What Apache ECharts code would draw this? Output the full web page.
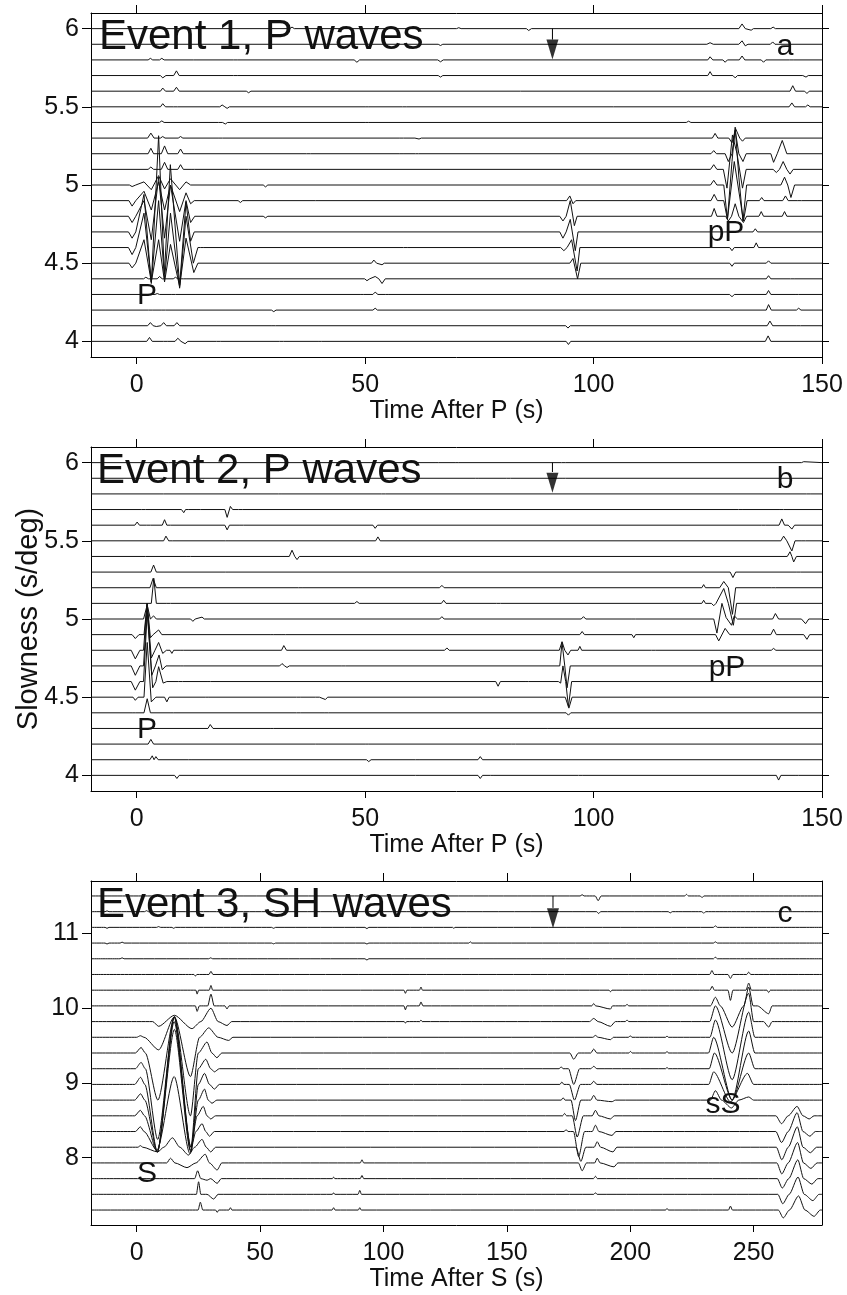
<!DOCTYPE html>
<html>
<head>
<meta charset="utf-8">
<script src="https://cdn.jsdelivr.net/npm/echarts@6/dist/echarts.min.js"></script>
<style>
  html, body { margin: 0; padding: 0; background: #fff; }
  #chart { width: 847px; height: 1295px; }
</style>
</head>
<body>
<div id="chart"></div>
<script>
// slowness of each beam trace, top to bottom (s/deg)
const slownessA = [6.0, 5.9, 5.8, 5.7, 5.6, 5.5, 5.4, 5.3, 5.2, 5.1, 5.0, 4.9, 4.8, 4.7, 4.6, 4.5, 4.4, 4.3, 4.2, 4.1, 4.0];
const slownessB = [6.0, 5.9, 5.8, 5.7, 5.6, 5.5, 5.4, 5.3, 5.2, 5.1, 5.0, 4.9, 4.8, 4.7, 4.6, 4.5, 4.4, 4.3, 4.2, 4.1, 4.0];
const slownessC = [11.5, 11.29, 11.08, 10.87, 10.66, 10.45, 10.24, 10.03, 9.82, 9.61, 9.40, 9.19, 8.98, 8.77, 8.56, 8.35, 8.14, 7.93, 7.72, 7.51, 7.30];

// amplitude of 1 = one trace spacing
const ampUnitAB = 0.1;
const ampUnitC = 0.21;

// record start / end (s)
const recordA = [-10, 150];
const recordC = [-18.5, 277.7];

// tick labels
const timeTicksP = [0, 50, 100, 150];
const timeTicksS = [0, 50, 100, 150, 200, 250];
const slowTicksP = [4, 4.5, 5, 5.5, 6];
const slowTicksS = [8, 9, 10, 11];

// arrows: [time, slowness of line top, slowness of line end, triangle centre]
const arrowA = [91, 6.0, 5.93, 5.866];
const arrowB = [91, 6.0, 5.94, 5.871];
const arrowC = [168.7, 11.5, 11.34, 11.203];

// traces: flat pairs of time (s), amplitude
const tracesA = [
  [33.5,0, 34,0.1, 34.5,0, 70,0, 70.5,0.06, 71,0, 85.3,0, 85.8,-0.12, 86.4,0, 131.8,0, 132.5,0.3, 133.2,0, 134.5,-0.1, 135,0, 138.8,0, 139.3,0.1, 139.8,0],
  [66,0, 66.5,-0.08, 67,0, 124.8,0, 125.5,0.1, 126.2,0, 131.8,0, 132.5,0.22, 133.2,-0.1, 133.8,0, 138.7,0, 139.2,0.15, 139.7,0],
  [2.5,0, 3,0.1, 3.5,0, 5,0, 5.5,0.1, 6,0, 12.4,0, 12.8,0.08, 13.2,0, 21.2,0, 21.6,-0.1, 22,0, 47.6,0, 48.2,-0.15, 48.8,0, 65.9,0, 66.5,-0.12, 67.1,0, 125,0, 125.5,0.2, 126.1,0, 128.3,0, 128.8,-0.15, 129.3,0, 131.9,0, 132.5,0.25, 133.1,0, 136.7,0, 137.2,-0.15, 137.7,0, 142.9,0, 143.3,0.1, 143.7,0],
  [5.2,0, 5.7,-0.15, 6.4,0, 8.1,0, 8.7,0.3, 9.3,0, 21.2,0, 21.6,0.06, 22,0, 66,0, 66.5,-0.1, 67,0, 125,0, 125.5,0.25, 126,0, 130.5,0, 131,-0.15, 131.5,0, 145.8,0, 146.5,-0.1, 147,0],
  [5.2,0, 5.7,0.2, 6.3,0, 7.3,0, 7.7,-0.12, 8.1,0, 8.7,0.25, 9.3,0, 24,0, 24.5,-0.1, 25,0, 143,0, 143.6,0.35, 144.2,0, 146.2,0, 146.7,-0.15, 147.2,0],
  [5.2,0, 5.7,0.2, 6.3,0, 8.1,0, 8.5,0.08, 8.9,0, 18.2,0, 18.7,0.12, 19.3,0, 19.8,-0.1, 20.3,0, 50,0, 50.4,0.08, 50.8,0, 58.2,0, 58.6,0.08, 59,0, 103.6,0, 104,0.06, 104.4,0, 142.8,0, 143.4,0.25, 144,0, 146.4,0, 146.9,0.12, 147.4,0],
  [5,0, 5.5,0.1, 6,0, 17.9,0, 18.3,0.08, 18.8,0, 19.4,-0.1, 19.9,0, 50,0, 50.4,0.06, 50.8,0, 120.3,0, 120.8,0.08, 121.3,0],
  [2.4,0, 3.1,0.32, 3.8,0, 5.2,0, 5.7,0.1, 6.2,0, 9.1,0, 9.6,0.1, 10.1,0, 18,0, 18.4,0.08, 18.8,0, 57.6,0, 58,0.1, 58.4,0, 60.9,0, 61.3,0.1, 61.8,-0.06, 62.3,0, 126,0, 126.6,0.3, 127.2,0, 129.6,0, 130.3,-0.3, 131.1,0.6, 132,0, 132.6,-0.2, 133.2,0],
  [2.5,0, 3.1,0.35, 3.7,0, 5.4,0, 6.1,0.5, 6.8,0, 9,0, 9.6,0.3, 10.2,0, 37.2,0, 37.6,-0.06, 38,0, 57.6,0, 58,0.1, 58.5,0, 61,0, 61.3,0.08, 61.7,0, 125.7,0, 126.3,0.2, 126.9,0, 128.8,0, 129.5,-0.5, 130.3,0, 131,1.5, 131.8,0, 132.7,-0.5, 133.4,0, 138.8,0, 139.4,-0.55, 140.2,0, 141.3,0.85, 142.3,0],
  [2.5,0, 3.1,0.15, 3.7,0, 5.4,0, 6.1,0.45, 6.8,0, 9,0, 9.6,0.3, 10.2,0, 11.9,0, 12.3,0.08, 12.7,0, 23.7,0, 24.1,0.06, 24.5,0, 125.6,0, 126.3,0.3, 127,0, 128.4,0, 129.2,-1.2, 130.4,2.2, 131.4,1.0, 132.6,-1.2, 133.4,0, 139.3,0, 140,-0.2, 140.7,0, 141.5,0.5, 142.3,0, 143,-0.3, 143.7,0],
  [-1.6,0, -1,-0.1, -0.2,0, 1.6,0.2, 3.2,-0.3, 4.8,0.6, 6.1,-0.25, 7.4,0.4, 9.4,-0.3, 10.8,0.2, 11.8,0, 27.7,0, 28.2,-0.12, 28.7,0, 125.6,0, 126.3,0.3, 127,0, 128.5,0, 129.3,-2.2, 130.3,1.5, 131,3.7, 131.8,0.5, 132.7,-2.3, 133.5,0, 141,0, 141.8,0.5, 142.5,0, 143.2,-0.8, 144,0],
  [-1.7,0, -1,-0.35, -0.2,0, 1.6,0.6, 3.2,-0.6, 4.8,1.2, 6.1,-0.6, 7.4,1.0, 9.4,-0.7, 10.8,0.5, 11.8,-0.2, 12.6,0, 22.2,0, 22.7,-0.12, 23.2,0, 39.1,0, 39.5,0.08, 39.9,0, 94.1,0, 94.8,0.3, 95.5,-0.2, 96.1,0, 125.7,0, 126.4,0.4, 127.1,0, 128.5,0, 129.3,-1.2, 130.8,2.5, 132.8,-1.3, 133.6,0, 136.3,0, 136.8,0.2, 137.3,0, 141.4,0, 142,0.3, 142.6,0, 144.7,0, 145.1,0.1, 145.5,0],
  [-1.8,0, -1,-0.4, -0.2,0, 1.6,1.0, 3.2,-1.5, 4.8,2.5, 6.1,-1.4, 7.4,2.0, 9.4,-1.6, 10.8,1.0, 11.8,-0.4, 12.7,0, 27.7,0, 28.2,-0.1, 28.7,0, 92.6,0, 93.3,-0.3, 94,0, 94.9,1.0, 95.8,-0.6, 96.4,0, 125.8,0, 126.4,0.5, 127,0, 128.9,0, 129.5,-0.3, 130.2,0, 131,0.8, 131.8,0, 132.8,-0.4, 133.5,0, 136.2,0, 136.7,0.3, 137.2,0, 141.3,0, 141.8,0.3, 142.3,0],
  [-1.8,0, -1,-0.4, -0.2,0, 1.6,2.4, 3.2,-3.3, 4.8,6.15, 6.06,-2.7, 7.37,4.3, 9.4,-3.4, 10.8,1.9, 11.8,-0.6, 12.6,0, 92.6,0, 93.3,-0.4, 94,0, 94.9,0.8, 96,-1.2, 96.6,0, 134.9,0, 135.4,0.2, 135.9,0],
  [-1.8,0, -1,-0.45, -0.2,0, 1.6,2.2, 3.2,-2.2, 4.8,3.0, 6.1,-2.0, 7.4,2.2, 9.4,-2.6, 10.8,2.0, 12.4,-1.0, 13.4,0, 14,0, 14.3,-0.1, 14.7,0, 58.4,0, 58.8,0.1, 59.2,0, 92.8,0, 93.5,-0.2, 94.2,0, 95.2,0.5, 96.4,-1.5, 97,0, 129.8,0, 130.3,-0.2, 130.8,0, 135.1,0, 135.6,0.3, 136.1,0],
  [-1.7,0, -1,-0.3, -0.2,0, 1.6,1.5, 3.2,-1.2, 4.8,1.5, 6.1,-1.2, 7.4,1.2, 9.4,-1.5, 10.8,1.6, 12.5,-0.6, 13.4,0, 51.4,0, 51.9,0.2, 52.5,0, 53.7,-0.1, 54.2,0, 94.8,0, 95.5,0.3, 96.5,-1.0, 97.2,0, 129.8,0, 130.3,-0.2, 130.8,0, 137.8,0, 138.3,0.15, 138.8,0],
  [1.5,0, 2,0.1, 2.6,0, 4.5,0, 5,0.15, 5.6,0, 8,0, 8.5,0.1, 9,0, 10.2,0, 10.6,-0.1, 11,0, 49.9,0, 50.4,-0.12, 51,0, 52.2,0.15, 53,0, 53.7,-0.3, 54.4,0, 137.8,0, 138.3,0.2, 138.8,0, 143.1,0, 143.5,0.08, 143.9,0],
  [4,0, 4.5,0.06, 5,0, 7.7,0, 8.1,0.06, 8.5,0, 48.9,0, 49.3,0.08, 49.7,0, 51.7,0, 52.2,0.15, 52.8,0, 54.4,0, 54.8,-0.06, 55.2,0, 129.8,0, 130.3,-0.15, 130.8,0, 137.8,0, 138.3,0.25, 138.8,0, 144.1,0, 144.5,0.1, 144.9,0],
  [2.6,0, 3,0.06, 3.4,0, 5.5,0, 5.9,0.06, 6.3,0, 29.5,0, 30,-0.1, 30.5,0, 51.7,0, 52.2,0.12, 52.7,0, 137.8,0, 138.3,0.35, 138.9,0, 144.4,0, 144.9,0.12, 145.4,0],
  [2.4,0, 3,0.2, 3.6,0, 4.3,-0.05, 5.3,0, 5.9,0.2, 6.5,0, 8.2,0, 8.8,0.2, 9.4,0, 29.6,0, 30,-0.05, 30.4,0, 93.9,0, 94.4,-0.15, 94.9,0, 138,0, 138.6,0.3, 139.2,0, 144.5,0, 144.9,0.08, 145.3,0],
  [2.2,0, 2.8,0.25, 3.4,0, 5.9,0, 6.3,0.1, 6.8,0, 8.4,0, 9,0.2, 9.7,0, 10.6,-0.15, 11.2,0, 17.5,0, 17.9,-0.05, 18.3,0, 31.3,0, 31.7,0.08, 32.1,0, 39.7,0, 40.1,0.08, 40.5,0, 94,0, 94.5,-0.2, 95,0, 137.6,0, 138.2,0.35, 138.8,0]
];

const tracesB = [
  [7,0, 7.4,0.1, 7.8,0, 65.3,0, 65.7,0.06, 66.1,0, 69.7,0, 70.1,0.06, 70.5,0, 93,0, 93.4,-0.05, 93.8,0, 145.5,0, 146,0.06, 146.4,0],
  [74.1,0, 74.5,-0.06, 74.9,0, 81,0, 81.4,0.05, 81.8,0, 93.1,0, 93.5,0.05, 93.9,0],
  [5.1,0, 5.5,0.05, 5.9,0, 31,0, 31.4,0.05, 31.8,0, 53.6,0, 54,0.1, 54.5,0, 146.6,0, 147,-0.1, 147.4,0],
  [1.1,0, 1.5,0.1, 1.9,0, 9.8,0, 10.3,-0.2, 10.7,0, 11,0.1, 11.4,0, 13.2,0, 13.6,0.06, 14,0, 19.3,0, 19.8,-0.5, 20.5,0.2, 21,0, 22.3,0, 22.7,0.06, 23.1,0, 131.7,0, 132.1,-0.1, 132.5,0, 140.8,0, 141.2,0.08, 141.6,0],
  [-0.4,0, 0.1,0.2, 0.6,0, 2.2,0, 2.6,0.08, 3,0, 5.6,0, 6.1,0.35, 6.6,0, 7,-0.1, 7.4,0, 19.3,0, 19.8,-0.3, 20.3,0, 22.6,0, 23,0.08, 23.4,0, 51.7,0, 52.2,-0.2, 52.7,0, 136.8,0, 137.2,0.1, 137.6,0, 140.6,0, 141.2,0.4, 141.8,0, 142.6,0, 143.4,-0.25, 144,0],
  [5.9,0, 6.4,0.3, 7,0, 7.4,-0.1, 7.8,0, 19.4,0, 19.8,-0.06, 20.2,0, 52.3,0, 52.8,0.25, 53.3,0, 141,0, 141.6,0.3, 142.3,0, 143.4,-0.65, 144.1,0, 145.6,0, 146,-0.1, 146.4,0],
  [1.9,0, 2.3,0.06, 2.7,0, 11,0, 11.4,0.06, 11.8,0, 33.4,0, 34,0.4, 34.6,0, 35.1,-0.2, 35.6,0, 142.4,0, 143,0.3, 143.4,0, 143.8,-0.35, 144.4,0],
  [3.1,0, 3.7,0.45, 4.3,0, 19.4,0, 19.8,-0.06, 20.2,0, 129.9,0, 130.5,-0.35, 131.1,0, 144.5,0, 144.9,0.08, 145.3,0],
  [2.9,0, 3.6,0.6, 4.3,0, 35.4,0, 35.8,-0.06, 36.2,0, 66.3,0, 66.8,0.15, 67.3,0, 123.7,0, 124.1,0.2, 124.5,0, 127.6,0, 128.5,0.4, 129.5,0, 130.4,-1.7, 131.1,0, 139,0, 139.4,0.08, 139.8,0],
  [3.2,0, 3.75,1.6, 4.3,0, 6.6,0, 7,0.08, 7.4,0, 47.7,0, 48.2,0.12, 48.7,0, 66.7,0, 67.2,0.2, 67.7,0, 78.8,0, 79.2,0.06, 79.6,0, 123.7,0, 124.1,0.2, 124.5,0, 125.8,0, 126.3,-0.15, 126.8,0, 128.5,0.95, 129.5,0, 130.6,-1.4, 131.3,0],
  [1.5,0, 2.3,0.9, 3,0, 3.7,0.2, 4.3,0, 11.8,0, 12.3,-0.15, 12.8,0, 14.3,0.12, 14.8,0, 66.3,0, 66.8,0.15, 67.3,0, 97.3,0, 97.8,0.15, 98.3,0, 108.4,0, 108.8,-0.12, 109.2,0, 126.3,0, 127,-0.9, 128.1,1.0, 129,0.1, 130.2,-0.4, 130.8,0.2, 131.5,0, 139.2,0, 139.8,0.35, 140.5,0, 145.5,0, 146.4,-0.3, 147.1,0],
  [-1,0, -0.3,-0.25, 0.5,0, 1.6,0, 2.3,2.0, 3,-0.2, 3.6,0, 4.8,0.3, 5.5,0, 29.2,0, 29.6,0.1, 30,0, 31.8,0, 32.2,0.12, 32.6,0, 97,0, 97.5,0.2, 98,0, 108.4,0, 108.8,-0.2, 109.2,0, 126.7,0, 127.4,-0.4, 128.8,0.4, 129.8,0, 138.8,0, 139.4,0.35, 140,0, 146,0, 146.7,-0.3, 147.3,0],
  [-1.2,0, -0.3,-0.55, 0.7,0, 1.5,0, 2.25,3.0, 3.2,-0.5, 4,0, 4.8,0.5, 5.7,-0.2, 6.5,0, 7.3,0, 7.7,-0.2, 8.1,0, 9.5,0, 9.9,0.1, 10.3,0, 31.7,0, 32.2,0.3, 32.8,0, 67.4,0, 67.9,0.15, 68.4,0, 92.5,0, 93.1,0.55, 93.7,0, 94.4,-0.3, 95,0, 96.6,0, 97,0.25, 97.4,0, 112.7,0, 113.1,0.08, 113.5,0, 138.9,0, 139.4,0.12, 139.9,0],
  [-1.2,0, -0.3,-0.6, 0.7,0, 1.5,0, 2.3,3.8, 3.3,-0.6, 4.1,0, 4.9,0.7, 5.6,-0.25, 6.4,0, 9.5,0, 9.9,0.1, 10.3,0, 31.3,0, 31.8,0.15, 32.4,0, 32.9,-0.1, 33.4,0, 44.9,0, 45.3,-0.08, 45.7,0, 92.6,0, 93.1,1.5, 93.7,0, 94.2,-1.4, 94.9,0],
  [-1.2,0, -0.3,-0.55, 0.7,0, 1.5,0, 2.3,4.4, 3.5,-0.4, 4.2,0, 4.8,0.95, 5.8,-0.1, 6.6,0, 9.2,0, 9.6,0.12, 10,0, 15.4,0, 15.8,0.06, 16.2,0, 78.6,0, 79.1,-0.3, 79.6,0, 85,0, 85.4,0.08, 85.8,0, 92.3,0, 92.8,-0.1, 93.3,1.0, 93.9,0, 94.5,-1.6, 95.2,0],
  [-0.8,0, -0.3,-0.2, 0.3,0, 1.6,0, 2.3,3.5, 3.2,-0.3, 4.2,0, 6.1,0, 6.6,-0.3, 7.1,0, 15,0, 15.4,0.12, 15.8,0, 35,0, 35.4,0.1, 35.8,0, 39.1,0, 39.5,0.1, 40,0, 41.3,-0.15, 41.8,0, 93.8,0, 94.6,-0.7, 95.3,0],
  [-1,0, -0.6,-0.08, -0.2,0, 1.6,0, 2.3,0.9, 3,0, 7.3,0, 7.7,-0.1, 8.1,0, 35,0, 35.4,0.1, 35.8,0, 41.2,0, 41.6,-0.06, 42,0, 94,0, 94.5,-0.15, 95,0],
  [15.6,0, 16.1,0.25, 16.7,0, 29.2,0, 29.6,-0.06, 30,0],
  [2.5,0, 3.1,0.3, 3.7,0, 39.1,0, 39.5,0.06, 39.9,0, 50,0, 50.4,-0.1, 50.8,0, 82.1,0, 82.5,0.12, 82.9,0],
  [2.9,0, 3.4,0.25, 3.8,0, 4.2,0.2, 4.7,0, 11.3,0, 11.7,0.08, 12.1,0, 50.3,0, 50.8,-0.12, 51.3,0, 61,0, 61.4,0.1, 61.8,0, 74.7,0, 75.2,0.2, 75.7,0],
  [8.3,0, 8.8,-0.2, 9.3,0, 61,0, 61.4,0.08, 61.8,0, 74.7,0, 75.2,-0.2, 75.7,0, 77.4,0, 77.8,0.06, 78.2,0, 96.7,0, 97.1,-0.1, 97.5,0, 140,0, 140.5,-0.3, 141,0, 144.1,0, 144.5,0.06, 144.9,0]
];

const tracesC = [
  [7.5,0, 8.2,0.05, 8.9,0, 14.4,0, 15,-0.1, 15.6,0, 92,0, 92.7,-0.06, 93.4,0, 179.7,0, 180.5,0.08, 181.3,0, 185.8,0, 187,-0.3, 188.2,0, 222,0, 222.8,0.1, 223.6,0, 228.3,0, 229.1,-0.1, 229.9,0],
  [-12.8,0, -12,0.05, -11.2,0, 3.2,0, 4,0.06, 4.8,0, 14.4,0, 15,-0.08, 15.6,0, 54.7,0, 55.5,0.05, 56.3,0, 92.5,0, 93.3,-0.08, 94.1,0, 186.4,0, 187.2,-0.12, 188,0, 215.4,0, 216.2,-0.08, 217,0, 229,0, 229.8,-0.1, 230.6,0],
  [-12.8,0, -12,-0.06, -11.2,0, 8.1,0, 8.9,0.05, 9.7,0, 14.3,0, 15,-0.06, 15.7,0, 54.7,0, 55.5,-0.06, 56.3,0, 92.5,0, 93.3,-0.08, 94.1,0, 128,0, 128.5,-0.06, 129,0, 233.7,0, 234.5,0.1, 235.3,0],
  [-12.8,0, -12,-0.06, -11.2,0, -6.7,0, -5.9,0.06, -5.1,0, 54.7,0, 55.5,-0.05, 56.3,0, 92.5,0, 93.3,-0.06, 94.1,0, 134.6,0, 135.2,0.08, 135.8,0, 233.7,0, 234.5,0.08, 235.3,0],
  [-6.7,0, -5.9,0.06, -5.1,0, 29.2,0, 30,0.06, 30.8,0, 92.5,0, 93.3,-0.08, 94.1,0, 233.7,0, 234.5,0.1, 235.3,0],
  [23.2,0, 23.8,-0.1, 24.4,0, 29.3,0, 30.1,0.2, 30.9,0, 232.2,0, 233.1,0.25, 234,0, 239.6,0, 240.6,-0.25, 241.6,0, 247.2,0, 248,0.15, 248.8,0],
  [24,0, 24.5,-0.25, 25.1,0, 29.4,0, 30.1,0.3, 30.8,0, 108.3,0, 108.9,-0.2, 109.5,0, 114.6,0, 115.2,0.2, 115.8,0, 191.4,0, 192,-0.1, 192.6,0, 232.3,0, 233.2,0.25, 234.1,0, 239.6,0, 240.6,-0.65, 241.6,0, 246.9,0, 248,0.45, 249.1,0, 255.4,0, 256.1,-0.15, 256.8,0],
  [23.8,0, 24.5,-0.35, 25.4,0, 28.8,0, 30.1,0.75, 31.4,0, 35.8,0, 36.6,-0.2, 37.4,0, 108.3,0, 108.9,-0.25, 109.5,0, 114.5,0, 115.2,0.25, 116,0, 184.4,0, 185.2,0.15, 186,0, 192,-0.2, 192.8,0, 198,0, 198.7,0.1, 199.4,0, 232.5,0, 234.5,0.55, 236.5,0, 241.3,-1.35, 246,0, 248,1.2, 249.8,0, 251.5,0, 256.1,-0.5, 257.5,0],
  [6.5,0, 8.9,-0.3, 15.3,0.4, 22.4,-0.45, 26,0, 30.1,0.85, 33,0, 36.6,-0.25, 38.5,0, 108.4,0, 108.9,-0.1, 109.4,0, 114.7,0, 115.2,0.1, 115.7,0, 183.5,0, 185.2,0.2, 187,0, 192,-0.3, 194,0, 198,0, 198.7,0.1, 199.4,0, 232.2,0, 234.5,1.0, 241.3,-2.0, 248,1.8, 250,0, 254,0, 256.1,-0.35, 257.5,0],
  [0,0, 1.5,0.1, 3,0, 8.9,-0.8, 15.3,1.3, 21.8,-2.5, 25.5,0, 29.2,0.6, 33,0, 37.3,-0.2, 39,0, 184.8,0, 185.9,0.12, 187,0, 192,-0.15, 193.2,0, 199.3,0, 200,0.1, 200.7,0, 214.3,0, 214.9,0.08, 215.5,0, 232.3,0, 234.5,1.1, 241.3,-2.7, 248,1.6, 250.5,0],
  [-0.5,0, 1.8,0.35, 3.5,0, 8.6,-3.0, 15.3,2.3, 21.8,-4.0, 25,0, 28.5,0.7, 30.5,0, 32.5,-0.3, 34.5,0, 175.5,0, 177.1,-0.4, 179,0, 184,0, 185.2,0.25, 186.5,0, 199.4,0, 200.1,0.1, 200.8,0, 214.3,0, 214.9,0.1, 215.5,0, 231.7,0, 233.8,1.0, 241.3,-3.0, 248,1.4, 250.5,0],
  [-0.5,0, 1.8,0.4, 3.5,0, 8.5,-4.5, 15.3,3.3, 22,-5.0, 25,0, 28,0.6, 30,0, 31.5,-0.2, 33.5,0, 171.2,0, 172,0.12, 172.8,0, 175,0, 177.1,-1.0, 179.5,0, 184,0, 185.2,0.15, 186.5,0, 214.3,0, 214.9,0.08, 215.5,0, 232,0, 234.1,1.0, 241.3,-2.0, 248,1.0, 250.5,0],
  [-0.8,0, 1.6,0.45, 3.3,0, 8.4,-4.3, 15.2,4.3, 22,-4.3, 25,0, 27.5,0.7, 29.5,0, 31.5,-0.3, 33.5,0, 171.5,0, 172.3,0.15, 173.1,0, 175.3,0, 177.4,-1.0, 179.8,0, 184,0, 185.2,0.2, 186.5,0, 231.8,0, 233.8,0.8, 240.6,-1.1, 247.5,0.7, 250,0],
  [-0.8,0, 1.6,0.4, 3.3,0, 8.4,-3.3, 15.2,5.0, 22,-3.0, 25,0, 27.5,0.7, 29,0, 30.5,-0.2, 32.5,0, 172,0, 172.8,0.15, 173.6,0, 176,0, 177.8,-1.3, 180,0, 184,0, 185.2,0.3, 186.5,0, 192.6,-0.1, 194,0, 232.5,0, 234.5,0.6, 237,0, 241,-0.5, 244,0, 248,0.2, 250,0],
  [-0.8,0, 1.5,0.35, 3.2,0, 8.3,-2.3, 15.3,5.5, 21.8,-2.2, 24.5,0, 27,0.6, 28.5,0, 30,-0.2, 32,0, 172.6,0, 173.4,0.15, 174.2,0, 176.5,0, 178.5,-1.35, 181,0, 184.6,0, 185.9,0.35, 187.3,0, 192,-0.2, 193.5,0, 259,0, 261.3,-0.5, 264,0, 267.6,0.6, 270,0, 272.5,-0.2, 274.5,0],
  [-0.5,0, 1.5,0.3, 3,0, 8.2,-1.2, 15.2,3.5, 21.6,-1.4, 24,0, 26.5,0.5, 28,0, 29.5,-0.3, 31.5,0, 173.2,0, 174,0.12, 174.8,0, 177,0, 179.1,-1.6, 181.5,0, 184.6,0, 185.9,0.4, 187.3,0, 192.6,-0.25, 194.2,0, 259,0, 261.3,-0.7, 264,0, 267.6,1.2, 270,0, 272.8,-0.3, 275,0],
  [0.5,0, 1.5,0.1, 2.5,0, 8.5,-0.3, 11,0, 14.5,0.6, 17.5,0, 21,-0.5, 23.5,0, 26.5,0.5, 28.2,0, 30,-0.3, 32,0, 178,0, 180,-0.9, 182,0, 185.4,0, 186.6,0.35, 188,0, 193,-0.3, 194.6,0, 259.2,0, 261.4,-0.8, 264,0, 267.7,1.3, 270,0, 273,-0.35, 275.5,0],
  [12.2,0, 13.7,0.3, 15.5,0, 20.4,-0.3, 24,0, 27.8,0.55, 29.5,0, 32.6,-0.45, 34.5,0, 90.6,0, 91.3,0.2, 92,0, 179,0, 180.5,-0.5, 182.3,0, 185.6,0, 186.6,0.3, 187.8,0, 193.4,-0.25, 195,0, 259.4,0, 261.4,-0.7, 264,0, 267.8,1.3, 270.2,0, 273.2,-0.35, 275.7,0],
  [23.5,0, 24.7,0.5, 26,0, 28.5,-0.1, 30,0, 32.6,-0.3, 34.3,0, 79.3,0, 79.8,0.1, 80.3,0, 90.6,0, 91.3,0.2, 92,0, 185.1,0, 185.9,0.15, 186.7,0, 259.6,0, 261.6,-0.6, 264.2,0, 267.9,1.2, 270.3,0, 273.6,-0.35, 276,0],
  [24.2,0, 25.1,0.8, 26,0, 28.5,0, 31.2,-0.3, 33,0, 79.3,0, 79.8,0.1, 80.3,0, 89.7,0, 90.4,0.25, 91.1,0, 185.2,0, 185.9,0.1, 186.6,0, 259.8,0, 261.8,-0.6, 264.4,0, 268,1.1, 270.5,0, 274,-0.4, 276.5,0],
  [24.9,0, 25.8,0.5, 26.8,0, 32,0, 32.6,-0.15, 33.3,0, 37.4,0, 38,0.15, 38.6,0, 79.2,0, 79.8,0.15, 80.4,0, 89.8,0, 90.4,0.15, 91,0, 214.3,0, 214.9,0.1, 215.5,0, 239.8,0, 240.6,0.25, 241.4,0, 260,0, 262,-0.5, 264.5,0, 268.2,0.9, 270.8,0, 274.5,-0.4, 277,0]
];

const FONT = '"Liberation Sans", Arial, Helvetica, sans-serif';
const INK = '#111';

const chart = echarts.init(document.getElementById('chart'), null, { renderer: 'canvas' });

const grids = [
  { left: 91, top: 13, width: 731, height: 344, outerBoundsMode: 'none', containLabel: false },
  { left: 91, top: 447, width: 731, height: 344, outerBoundsMode: 'none', containLabel: false },
  { left: 91, top: 881, width: 731, height: 344, outerBoundsMode: 'none', containLabel: false }
];

const panels = [
  { slow: slownessA, traces: tracesA, unit: ampUnitAB, rec: recordA, yr: [3.9, 6.1], xt: timeTicksP, yt: slowTicksP, xname: 'Time After P (s)', arrow: arrowA, smooth: false },
  { slow: slownessB, traces: tracesB, unit: ampUnitAB, rec: recordA, yr: [3.9, 6.1], xt: timeTicksP, yt: slowTicksP, xname: 'Time After P (s)', arrow: arrowB, smooth: false },
  { slow: slownessC, traces: tracesC, unit: ampUnitC, rec: recordC, yr: [7.1, 11.7], xt: timeTicksS, yt: slowTicksS, xname: 'Time After S (s)', arrow: arrowC, smooth: 0.25 }
];

const xAxes = [];
const yAxes = [];
const series = [];

panels.forEach((p, g) => {
  const line = { show: true, onZero: false, lineStyle: { color: '#000', width: 1 } };
  xAxes.push({
    type: 'value', gridIndex: g, position: 'bottom', min: p.rec[0], max: p.rec[1],
    axisLine: line,
    axisTick: { show: true, length: 7, customValues: p.xt, lineStyle: { color: '#000' } },
    axisLabel: { customValues: p.xt, margin: 16, fontSize: 25, color: INK, fontFamily: FONT },
    splitLine: { show: false },
    name: p.xname, nameLocation: 'middle', nameGap: 42, nameMoveOverlap: false,
    nameTextStyle: { fontSize: 25, color: INK, fontFamily: FONT }
  });
  xAxes.push({
    type: 'value', gridIndex: g, position: 'top', min: p.rec[0], max: p.rec[1],
    axisLine: line,
    axisTick: { show: true, length: 8, customValues: p.xt, lineStyle: { color: '#000' } },
    axisLabel: { show: false },
    splitLine: { show: false }
  });
  yAxes.push({
    type: 'value', gridIndex: g, position: 'left', min: p.yr[0], max: p.yr[1],
    axisLine: line,
    axisTick: { show: true, length: 9, customValues: p.yt, lineStyle: { color: '#000' } },
    axisLabel: { customValues: p.yt, margin: 12, fontSize: 25, color: INK, fontFamily: FONT },
    splitLine: { show: false },
    name: g === 1 ? 'Slowness (s/deg)' : '', nameLocation: 'middle', nameGap: 48, nameMoveOverlap: false,
    nameTextStyle: { fontSize: 29, color: INK, fontFamily: FONT }
  });
  yAxes.push({
    type: 'value', gridIndex: g, position: 'right', min: p.yr[0], max: p.yr[1],
    axisLine: line,
    axisTick: { show: true, length: 7, customValues: p.yt, lineStyle: { color: '#000' } },
    axisLabel: { show: false },
    splitLine: { show: false }
  });

  p.slow.forEach((s, i) => {
    const w = p.traces[i];
    const data = [[p.rec[0], s]];
    for (let k = 0; k < w.length; k += 2) data.push([w[k], s + w[k + 1] * p.unit]);
    data.push([p.rec[1], s]);
    series.push({
      type: 'line', xAxisIndex: g * 2, yAxisIndex: g * 2, data: data,
      smooth: p.smooth, smoothMonotone: 'x',
      symbol: 'none', lineStyle: { color: INK, width: 1 }, silent: true, z: 2
    });
  });

  // arrow marking the predicted time
  const a = p.arrow;
  series.push({
    type: 'line', xAxisIndex: g * 2, yAxisIndex: g * 2,
    data: [[a[0], a[1]], [a[0], a[2]]],
    symbol: 'none', lineStyle: { color: '#000', width: 1 }, silent: true, z: 3
  });
  series.push({
    type: 'scatter', xAxisIndex: g * 2, yAxisIndex: g * 2,
    data: [[a[0], a[3]]], symbol: 'triangle', symbolRotate: 180, symbolSize: [12, 20],
    itemStyle: { color: '#000' }, silent: true, z: 3
  });
});

function txt(x, y, text, size, align) {
  return {
    type: 'text', x: x, y: y, z: 10, silent: true,
    style: { text: text, font: size + 'px ' + FONT, fill: INK, align: align || 'center', verticalAlign: 'middle' }
  };
}

chart.setOption({
  animation: false,
  backgroundColor: '#fff',
  grid: grids,
  xAxis: xAxes,
  yAxis: yAxes,
  series: series,
  graphic: [
    txt(99, 37, 'Event 1, P waves', 42, 'left'),
    txt(97, 471, 'Event 2, P waves', 42, 'left'),
    txt(97, 905, 'Event 3, SH waves', 42, 'left'),
    txt(785, 47, 'a', 30),
    txt(785, 480, 'b', 30),
    txt(785, 914, 'c', 30),
    txt(147, 296, 'P', 30),
    txt(726, 233, 'pP', 30),
    txt(147, 730, 'P', 30),
    txt(727, 668, 'pP', 30),
    txt(147, 1174, 'S', 30),
    txt(723, 1105, 'sS', 30)
  ]
});
</script>
</body>
</html>
